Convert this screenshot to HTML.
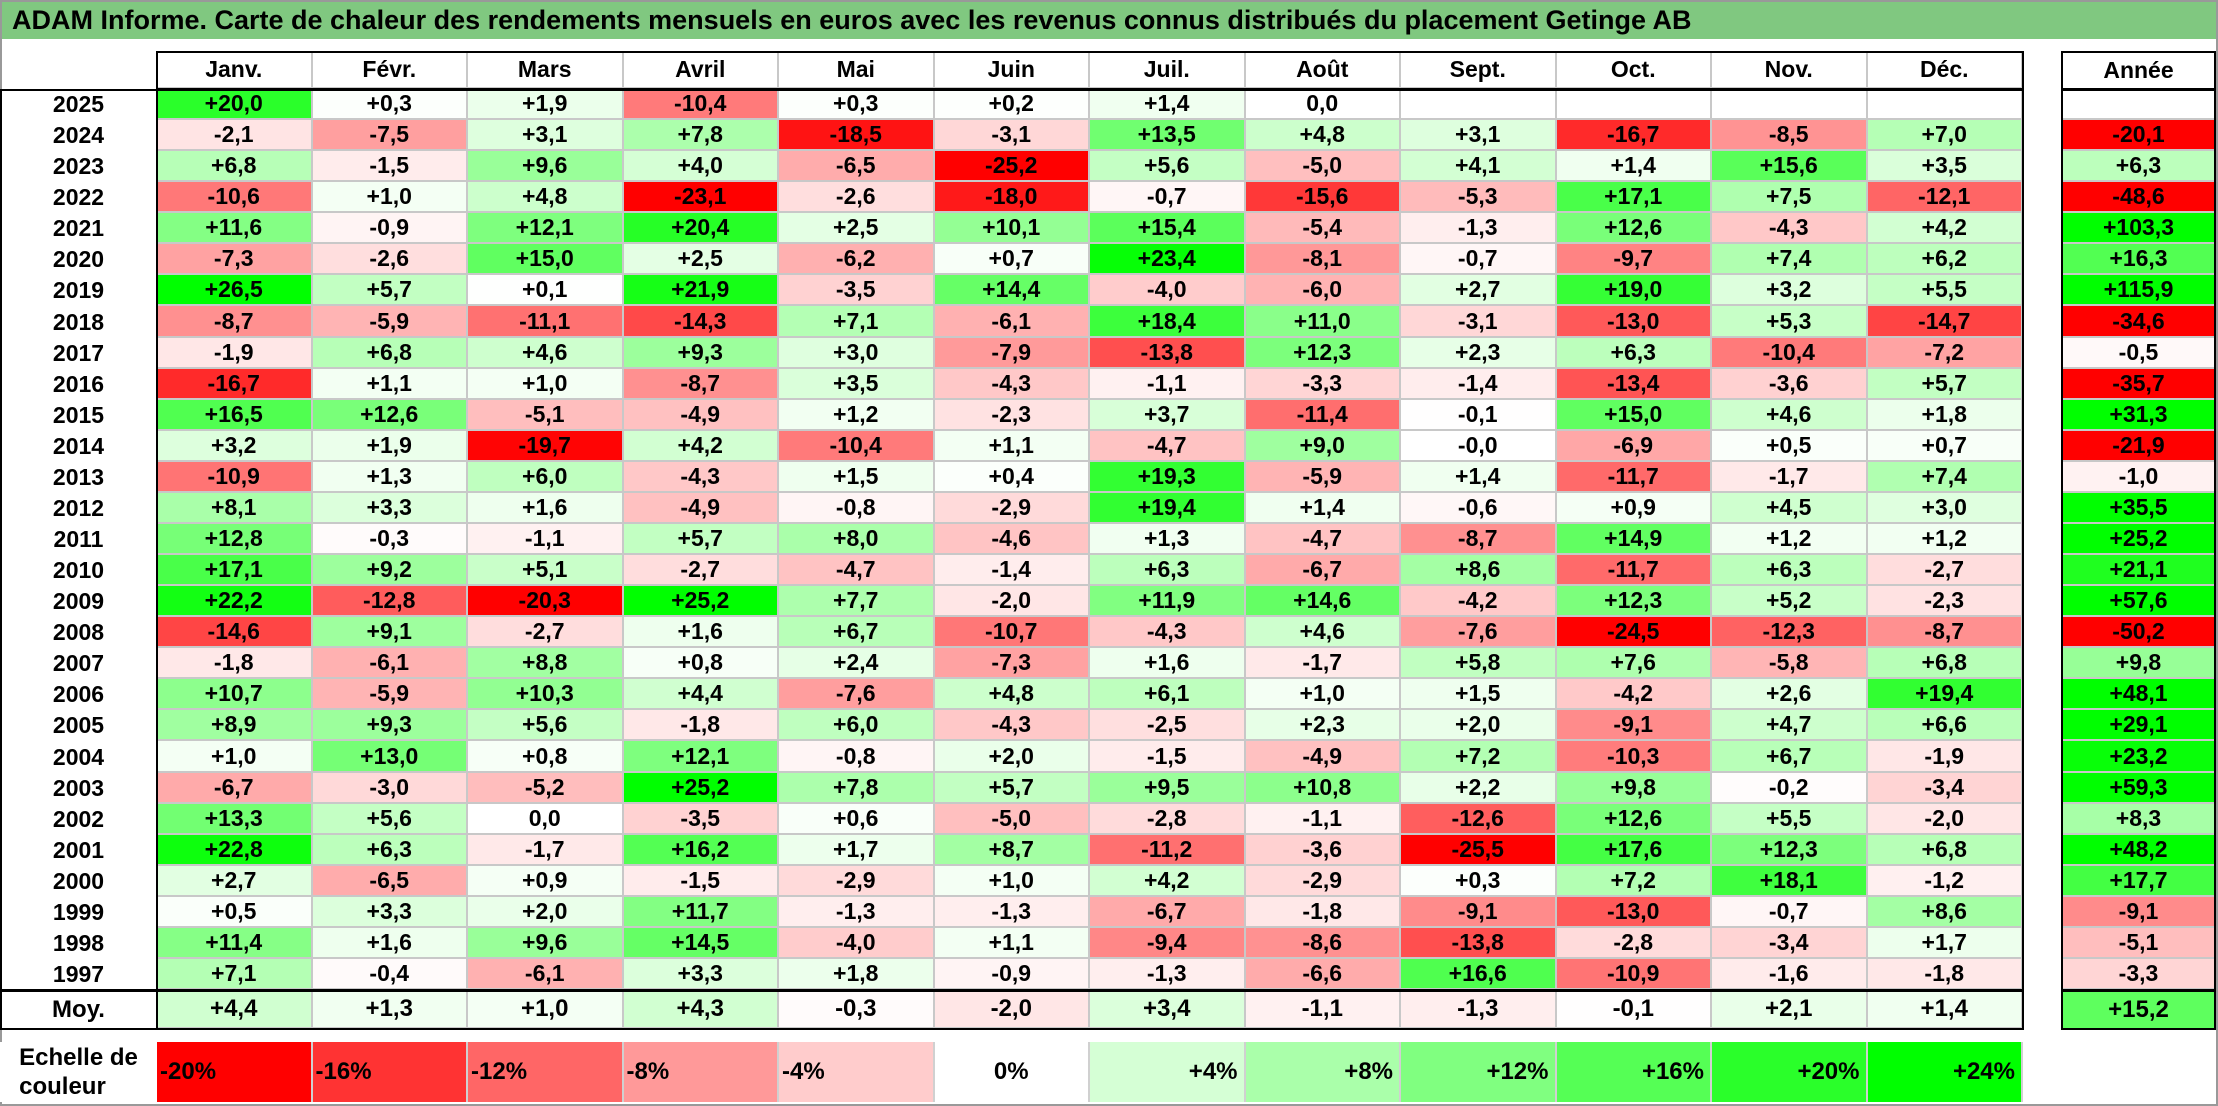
<!DOCTYPE html>
<html><head><meta charset="utf-8"><style>
html,body{margin:0;padding:0;background:#fff}
#root{position:relative;width:2218px;height:1106px;overflow:hidden;font-family:"Liberation Sans",Arial,sans-serif;font-weight:bold;color:#000;border:0}
.c{position:absolute;box-sizing:border-box;display:flex;align-items:center;justify-content:center;font-size:23px;white-space:nowrap}
.b{position:absolute;box-sizing:border-box;pointer-events:none}
</style></head><body>
<div id="root">
<div class="b" style="left:0;top:0;width:2218px;height:1106px;border:2px solid #999"></div>
<div class="c" style="left:2px;top:2px;width:2214px;height:37px;background:#80c880;justify-content:flex-start;padding-left:10px;font-size:27px">ADAM Informe. Carte de chaleur des rendements mensuels en euros avec les revenus connus distribués du placement Getinge AB</div>
</div>
<script>
const months=["Janv.","Févr.","Mars","Avril","Mai","Juin","Juil.","Août","Sept.","Oct.","Nov.","Déc."];
const years=["2025","2024","2023","2022","2021","2020","2019","2018","2017","2016","2015","2014","2013","2012","2011","2010","2009","2008","2007","2006","2005","2004","2003","2002","2001","2000","1999","1998","1997"];
const monthly=[
[20.0,0.3,1.9,-10.4,0.3,0.2,1.4,0.0,null,null,null,null],
[-2.1,-7.5,3.1,7.8,-18.5,-3.1,13.5,4.8,3.1,-16.7,-8.5,7.0],
[6.8,-1.5,9.6,4.0,-6.5,-25.2,5.6,-5.0,4.1,1.4,15.6,3.5],
[-10.6,1.0,4.8,-23.1,-2.6,-18.0,-0.7,-15.6,-5.3,17.1,7.5,-12.1],
[11.6,-0.9,12.1,20.4,2.5,10.1,15.4,-5.4,-1.3,12.6,-4.3,4.2],
[-7.3,-2.6,15.0,2.5,-6.2,0.7,23.4,-8.1,-0.7,-9.7,7.4,6.2],
[26.5,5.7,0.1,21.9,-3.5,14.4,-4.0,-6.0,2.7,19.0,3.2,5.5],
[-8.7,-5.9,-11.1,-14.3,7.1,-6.1,18.4,11.0,-3.1,-13.0,5.3,-14.7],
[-1.9,6.8,4.6,9.3,3.0,-7.9,-13.8,12.3,2.3,6.3,-10.4,-7.2],
[-16.7,1.1,1.0,-8.7,3.5,-4.3,-1.1,-3.3,-1.4,-13.4,-3.6,5.7],
[16.5,12.6,-5.1,-4.9,1.2,-2.3,3.7,-11.4,-0.1,15.0,4.6,1.8],
[3.2,1.9,-19.7,4.2,-10.4,1.1,-4.7,9.0,-0.0,-6.9,0.5,0.7],
[-10.9,1.3,6.0,-4.3,1.5,0.4,19.3,-5.9,1.4,-11.7,-1.7,7.4],
[8.1,3.3,1.6,-4.9,-0.8,-2.9,19.4,1.4,-0.6,0.9,4.5,3.0],
[12.8,-0.3,-1.1,5.7,8.0,-4.6,1.3,-4.7,-8.7,14.9,1.2,1.2],
[17.1,9.2,5.1,-2.7,-4.7,-1.4,6.3,-6.7,8.6,-11.7,6.3,-2.7],
[22.2,-12.8,-20.3,25.2,7.7,-2.0,11.9,14.6,-4.2,12.3,5.2,-2.3],
[-14.6,9.1,-2.7,1.6,6.7,-10.7,-4.3,4.6,-7.6,-24.5,-12.3,-8.7],
[-1.8,-6.1,8.8,0.8,2.4,-7.3,1.6,-1.7,5.8,7.6,-5.8,6.8],
[10.7,-5.9,10.3,4.4,-7.6,4.8,6.1,1.0,1.5,-4.2,2.6,19.4],
[8.9,9.3,5.6,-1.8,6.0,-4.3,-2.5,2.3,2.0,-9.1,4.7,6.6],
[1.0,13.0,0.8,12.1,-0.8,2.0,-1.5,-4.9,7.2,-10.3,6.7,-1.9],
[-6.7,-3.0,-5.2,25.2,7.8,5.7,9.5,10.8,2.2,9.8,-0.2,-3.4],
[13.3,5.6,0.0,-3.5,0.6,-5.0,-2.8,-1.1,-12.6,12.6,5.5,-2.0],
[22.8,6.3,-1.7,16.2,1.7,8.7,-11.2,-3.6,-25.5,17.6,12.3,6.8],
[2.7,-6.5,0.9,-1.5,-2.9,1.0,4.2,-2.9,0.3,7.2,18.1,-1.2],
[0.5,3.3,2.0,11.7,-1.3,-1.3,-6.7,-1.8,-9.1,-13.0,-0.7,8.6],
[11.4,1.6,9.6,14.5,-4.0,1.1,-9.4,-8.6,-13.8,-2.8,-3.4,1.7],
[7.1,-0.4,-6.1,3.3,1.8,-0.9,-1.3,-6.6,16.6,-10.9,-1.6,-1.8]];
const yearly=[null,-20.1,6.3,-48.6,103.3,16.3,115.9,-34.6,-0.5,-35.7,31.3,-21.9,-1.0,35.5,25.2,21.1,57.6,-50.2,9.8,48.1,29.1,23.2,59.3,8.3,48.2,17.7,-9.1,-5.1,-3.3];
const averages=[4.4,1.3,1.0,4.3,-0.3,-2.0,3.4,-1.1,-1.3,-0.1,2.1,1.4];
const averageYear=15.2;
const scaleSteps=[-20,-16,-12,-8,-4,0,4,8,12,16,20,24];

const root=document.getElementById('root');
const X0=157,CW=155.5,HY=51,HH=38,RY=89,RH=31.07,AX=2061,AW=155;
const MY=RY+years.length*RH, MH=39, SY=1042, SH=60;
function colX(i){return X0+i*CW;}
function rowY(i){return RY+i*RH;}
function color(v){
  if(v===null)return '#fff';
  if(v<0){const t=Math.min(1,-v/20);const g=Math.round(255*(1-t));return `rgb(255,${g},${g})`;}
  const t=Math.min(1,v/24);const r=Math.round(255*(1-t));return `rgb(${r},255,${r})`;
}
function fmt(v){
  if(v===null)return '';
  if(v===0&&!Object.is(v,-0))return '0,0';
  const s=(v<0||Object.is(v,-0))?'-':'+';
  return s+Math.abs(v).toFixed(1).replace('.',',');
}
function cell(x,y,w,h,txt,bg,name,extra){
  const d=document.createElement('div');
  d.className='c';
  
  
  d.style.cssText=`left:${x}px;top:${y}px;width:${w}px;height:${h}px;background:${bg};`+(extra||'');
  d.textContent=txt;
  root.appendChild(d);
  return d;
}
function box(x,y,w,h,css,name){
  const d=document.createElement('div');
  d.className='b';
  
  
  d.style.cssText=`left:${x}px;top:${y}px;width:${w}px;height:${h}px;`+css;
  root.appendChild(d);
}
const grid='border-right:2px solid #c8c8c8;border-bottom:2px solid #c8c8c8;';
months.forEach((m,i)=>cell(colX(i),HY,CW,HH,m,'#fff','month-header',grid));
cell(AX,HY,AW,HH,'Année','#fff','year-total-header');
years.forEach((yr,r)=>{
  cell(0,rowY(r),X0,RH,yr,'#fff','year-label');
  monthly[r].forEach((v,i)=>cell(colX(i),rowY(r),CW,RH,fmt(v),color(v),'heatmap-cell',grid));
  cell(AX,rowY(r),AW,RH,fmt(yearly[r]),color(yearly[r]),'year-total-cell','border-bottom:2px solid #c8c8c8;');
});
cell(0,MY,X0,MH,'Moy.','#fff','average-label','font-size:24px');
averages.forEach((v,i)=>cell(colX(i),MY,CW,MH,fmt(v),color(v),'average-cell',grid+'font-size:24px'));
cell(AX,MY,AW,MH,fmt(averageYear),color(averageYear),'average-year-cell','font-size:24px');
box(X0-1,HY,12*CW+2,HH+1,'border:2px solid #000;','header-border');
box(0,RY,12*CW+X0+1,MY-RY+1,'border:2px solid #000;','table-border');
box(X0-1,RY,2,MY-RY,'background:#000;','year-col-border');
box(0,MY,12*CW+X0+1,MH+1,'border:2px solid #000;','average-border');
box(X0-1,MY,2,MH,'background:#000;','average-col-border');
box(AX,HY,AW,HH+1,'border:2px solid #000;','year-header-border');
box(AX,RY,AW,MY-RY+1,'border:2px solid #000;','year-col-box');
box(AX,MY,AW,MH+1,'border:2px solid #000;','year-avg-box');
cell(0,SY,X0,SH,'','#fff','color-scale-label','flex-direction:column;line-height:29px;font-size:24px').innerHTML='Echelle de<br>couleur';
scaleSteps.forEach((s,i)=>{
  const txt=(s>0?'+':'')+s+'%';
  const al=s<0?'justify-content:flex-start;padding-left:3px;':(s>0?'justify-content:flex-end;padding-right:6px;':'');
  cell(colX(i),SY,CW,SH,txt,color(s),'color-scale-step','border-right:2px solid #d0d0d0;font-size:24px;'+al);
});
</script>
</body></html>
